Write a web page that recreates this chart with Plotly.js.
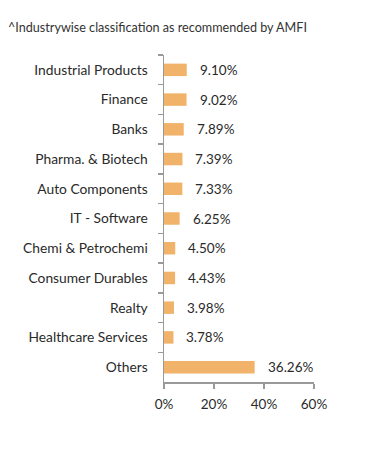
<!DOCTYPE html>
<html><head><meta charset="utf-8">
<script src="https://cdn.plot.ly/plotly-3.0.1.min.js"></script>
<style>html,body{margin:0;padding:0;background:#fff}</style>
</head><body>
<div id="chart" style="width:391px;height:450px"></div>
<script>
const categories = ["Industrial Products","Finance","Banks","Pharma. & Biotech","Auto Components","IT - Software","Chemi & Petrochemi","Consumer Durables","Realty","Healthcare Services","Others"];
const values = [9.10, 9.02, 7.89, 7.39, 7.33, 6.25, 4.50, 4.43, 3.98, 3.78, 36.26];
const xTicks = [0, 20, 40, 60];
const titleText = "^Industrywise classification as recommended by AMFI";

const font = "Lato, 'Open Sans', sans-serif";
const trace = {
  type: 'bar', orientation: 'h',
  x: values, y: categories,
  width: 0.42,
  marker: {color: '#F1B26A', line: {width: 0}},
  hoverinfo: 'none'
};
const annotations = values.map((v, i) => ({
  x: v, y: categories[i], xref: 'x', yref: 'y',
  text: v.toFixed(2) + '%', showarrow: false,
  xanchor: 'left', xshift: 11,
  font: {family: font, size: 13.5, color: '#2a2a2a'}
}));
const layout = {
  width: 391, height: 450,
  margin: {l: 164, r: 77, t: 55, b: 68},
  paper_bgcolor: '#fff', plot_bgcolor: '#fff',
  showlegend: false,
  title: {text: titleText, x: 8/391, xref: 'container', xanchor: 'left',
          y: 1 - 28/450, yref: 'container', yanchor: 'middle',
          font: {family: font, size: 12.6, color: '#333'}},
  xaxis: {range: [0, 60], tickvals: xTicks, ticktext: xTicks.map(t => t + '%'),
          showgrid: false, zeroline: false, showline: true, linecolor: '#999', linewidth: 1.5,
          ticks: 'outside', ticklen: 5, tickcolor: '#999', tickwidth: 1.5,
          ticklabelstandoff: 4,
          tickfont: {family: font, size: 13.5, color: '#2a2a2a'}, fixedrange: true},
  yaxis: {type: 'category', categoryorder: 'array', categoryarray: categories, autorange: 'reversed',
          showgrid: false, zeroline: false, showline: true, linecolor: '#999', linewidth: 1.5,
          ticks: 'outside', tickson: 'boundaries', ticklen: 5, tickcolor: '#999', tickwidth: 1.5,
          ticklabelstandoff: 12,
          tickfont: {family: font, size: 13.8, color: '#2a2a2a'}, fixedrange: true},
  annotations: annotations,
  font: {family: font}
};
Plotly.newPlot('chart', [trace], layout, {displayModeBar: false, staticPlot: true});
</script>
</body></html>
